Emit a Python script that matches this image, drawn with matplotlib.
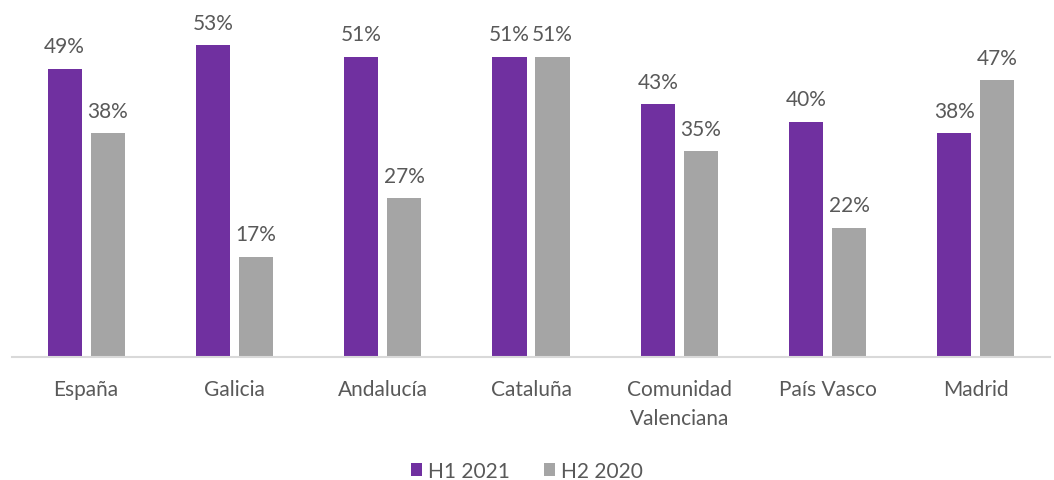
import numpy as np
import matplotlib
matplotlib.use("Agg")
import matplotlib.pyplot as plt

categories = ["España", "Galicia", "Andalucía", "Cataluña",
              "Comunidad\nValenciana", "País Vasco", "Madrid"]
h1_2021 = [49, 53, 51, 51, 43, 40, 38]
h2_2020 = [38, 17, 27, 51, 35, 22, 47]

PURPLE = "#7030A0"
GREY = "#A5A5A5"
TEXT = "#595959"

plt.rcParams["font.family"] = ["Lato", "DejaVu Sans"]

fig = plt.figure(figsize=(10.54, 4.81), dpi=100)
ax = fig.add_axes([12 / 1054, 123 / 481, 1038 / 1054, 353 / 481])

x = np.arange(len(categories))
w = 0.23
off = 0.145
b1 = ax.bar(x - off, h1_2021, w, color=PURPLE, label="H1 2021")
b2 = ax.bar(x + off, h2_2020, w, color=GREY, label="H2 2020")

for bars in (b1, b2):
    for rect in bars:
        v = rect.get_height()
        ax.annotate(f"{v:.0f}%", (rect.get_x() + rect.get_width() / 2, v),
                    xytext=(0, 9), textcoords="offset points",
                    ha="center", va="bottom", fontsize=15, color=TEXT)

ax.set_xlim(-0.5, len(categories) - 0.5)
ax.set_ylim(0, 60)
ax.set_xticks(x)
ax.set_xticklabels(categories, fontsize=15, color=TEXT, linespacing=1.55)
ax.tick_params(axis="x", length=0, pad=16)
ax.set_yticks([])
for s in ("top", "right", "left"):
    ax.spines[s].set_visible(False)
ax.spines["bottom"].set_color("#D9D9D9")
ax.spines["bottom"].set_linewidth(1.5)

fig.legend(handles=[b1, b2], loc="center", bbox_to_anchor=(0.5, 9 / 481),
           ncol=2, frameon=False, fontsize=15, labelcolor=TEXT,
           handlelength=0.55, handleheight=0.55, handletextpad=0.3, columnspacing=1.6)

fig.savefig("out.png", dpi=100)
